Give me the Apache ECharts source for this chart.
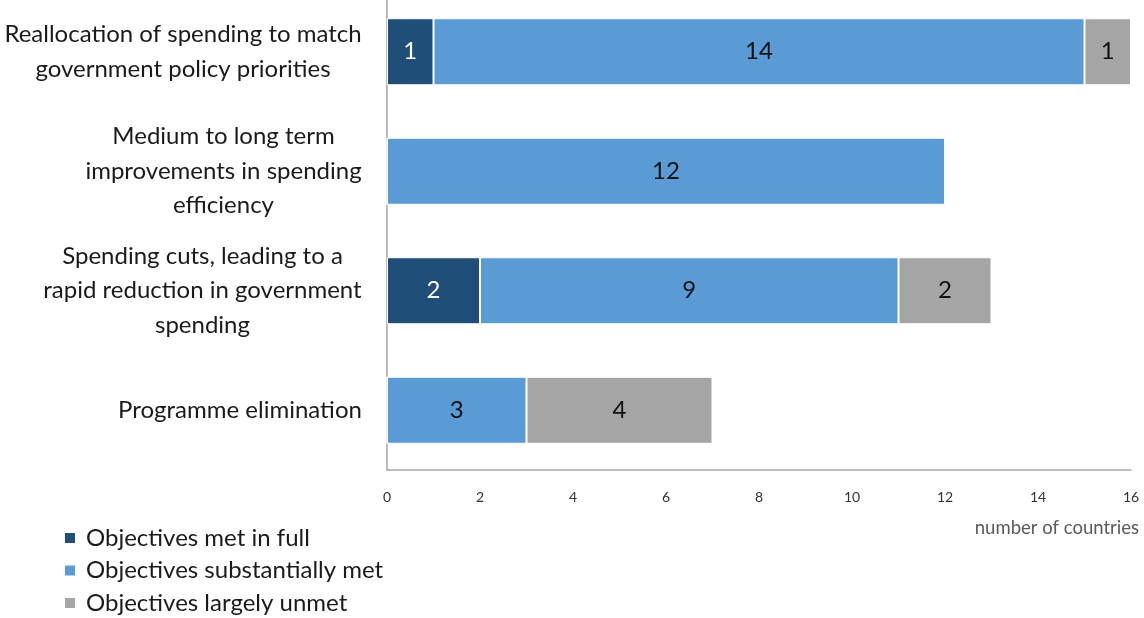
<!DOCTYPE html>
<html>
<head>
<meta charset="utf-8">
<script src="https://cdn.jsdelivr.net/npm/echarts@6/dist/echarts.min.js"></script>
<style>
  html, body { margin: 0; padding: 0; background: #fff; overflow: hidden; }
  /* the plot starts slightly above the page edge, so the canvas is shifted up */
  #main { width: 1144px; height: 626px; margin-top: -8px; }
</style>
</head>
<body>
<div id="main"></div>
<script>
// categories, top to bottom (one entry per line of the label)
var categories = [
  ['Reallocation of spending to match', 'government policy priorities'],
  ['Medium to long term', 'improvements in spending', 'efficiency'],
  ['Spending cuts, leading to a', 'rapid reduction in government', 'spending'],
  ['Programme elimination']
];
var metInFull = [1, 0, 2, 0];
var substantiallyMet = [14, 12, 9, 3];
var largelyUnmet = [1, 0, 2, 4];
var xTicks = [0, 2, 4, 6, 8, 10, 12, 14, 16];

var labelFont = '24px Lato';

// measure each label block so its lines can be centred inside it
var ctx = document.createElement('canvas').getContext('2d');
ctx.font = labelFont;
var rich = {};
categories.forEach(function (lines, i) {
  var w = 0;
  lines.forEach(function (l) { w = Math.max(w, ctx.measureText(l).width); });
  rich['c' + i] = {
    width: Math.ceil(w),
    align: 'center',
    fontFamily: 'Lato',
    fontSize: 24,
    lineHeight: 34.5,
    color: '#1a1a1a'
  };
});

var myChart = echarts.init(document.getElementById('main'));

function seg(name, data, color, labelColor) {
  return {
    name: name,
    type: 'bar',
    stack: 'total',
    barWidth: 67,
    data: data,
    itemStyle: { color: color, borderColor: '#fff', borderWidth: 1 },
    label: {
      show: true,
      position: 'inside',
      color: labelColor,
      fontFamily: 'Lato',
      fontSize: 24,
      formatter: function (p) { return p.value ? p.value : ''; }
    }
  };
}

var option = {
  animation: false,
  textStyle: { fontFamily: 'Lato' },
  grid: { left: 387, right: 13, top: 0, height: 478, containLabel: false },
  legend: {
    orient: 'vertical',
    left: 63,
    top: 534,
    padding: 0,
    itemWidth: 12,
    itemHeight: 12,
    itemGap: 8.5,
    icon: 'rect',
    textStyle: { fontFamily: 'Lato', fontSize: 24, lineHeight: 24, color: '#1a1a1a', padding: [0, 0, 0, 5] },
    data: ['Objectives met in full', 'Objectives substantially met', 'Objectives largely unmet']
  },
  xAxis: {
    type: 'value',
    min: 0,
    max: 16,
    interval: 2,
    axisLine: { show: true, lineStyle: { color: '#a6a6a6', width: 1.5 } },
    axisTick: { show: false },
    splitLine: { show: false },
    axisLabel: {
      color: '#333',
      fontSize: 14,
      margin: 20,
      formatter: function (v) { return xTicks.indexOf(v) >= 0 ? v : ''; }
    }
  },
  yAxis: {
    type: 'category',
    inverse: true,
    data: categories.map(function (lines) { return lines.join('\n'); }),
    axisLine: { show: true, lineStyle: { color: '#a6a6a6', width: 1.5 } },
    axisTick: { show: false },
    axisLabel: {
      margin: 25,
      align: 'right',
      rich: rich,
      formatter: function (v, i) {
        return v.split('\n').map(function (l) { return '{c' + i + '|' + l + '}'; }).join('\n');
      }
    }
  },
  graphic: [{
    type: 'text',
    right: 5,
    top: 527,
    style: { text: 'number of countries', fill: '#595959', font: '18.5px Lato' }
  }],
  series: [
    seg('Objectives met in full', metInFull, '#1f4e79', '#fff'),
    seg('Objectives substantially met', substantiallyMet, '#5b9bd5', '#111'),
    seg('Objectives largely unmet', largelyUnmet, '#a5a5a5', '#111')
  ]
};

myChart.setOption(option);
</script>
</body>
</html>
